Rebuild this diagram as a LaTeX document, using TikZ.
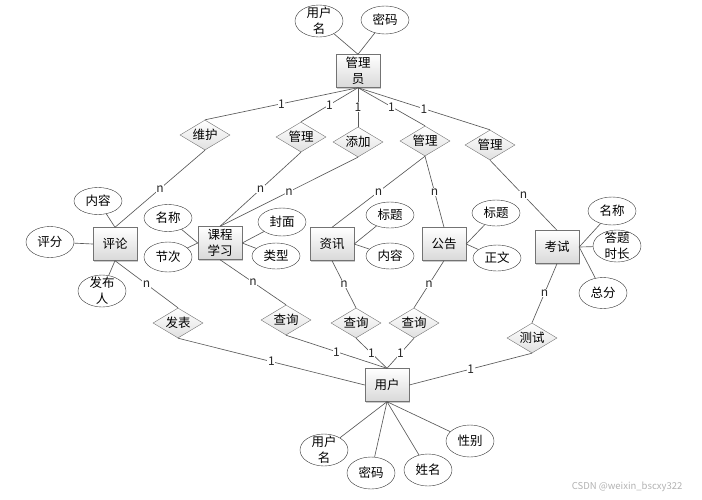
\documentclass[tikz,border=0pt]{standalone}
\usepackage{fontspec}
\setmainfont{Noto Sans CJK SC}
\usepackage{tikz}
\usetikzlibrary{shapes.geometric,shadows}
\newcommand{\ersz}{\fontsize{12.5}{16}\selectfont}
\newcommand{\lblsz}{\fontsize{12}{14}\selectfont}

\begin{document}
\begin{tikzpicture}[x=1pt,y=-1pt,
  ent/.style={rectangle,draw=black!55,top color=white,bottom color=black!15,minimum width=44pt,minimum height=33pt,inner sep=1pt,align=center,font=\ersz,
    drop shadow={shadow xshift=1.2pt,shadow yshift=-1.2pt,fill=black!45,opacity=0.45}},
  rel/.style={diamond,draw=black!55,top color=white,bottom color=black!12,minimum width=50pt,minimum height=30pt,aspect=1.67,inner sep=0pt,font=\ersz},
  attr/.style={ellipse,draw=black!80,fill=white,minimum width=48pt,minimum height=28pt,inner sep=0pt,align=center,font=\ersz},
  attrb/.style={attr,minimum height=32pt,inner ysep=-3pt},
  lbl/.style={fill=white,inner sep=0.6pt,font=\lblsz,text=black!85},
  ln/.style={draw=black!65,line width=0.65pt}]
  \useasboundingbox (0,0) rectangle (702,499);
  % entities
  \node[ent] (adm) at (358,71) {管理\\员};
  \node[ent] (pl) at (115,244) {评论};
  \node[ent] (kc) at (220,243) {课程\\学习};
  \node[ent] (zx) at (332,244) {资讯};
  \node[ent] (gg) at (444,244) {公告};
  \node[ent] (ks) at (557,247) {考试};
  \node[ent] (usr) at (387,385) {用户};
  % relationships
  \node[rel] (wh) at (205,135) {维护};
  \node[rel] (gl1) at (301,137) {管理};
  \node[rel] (tj) at (358,142) {添加};
  \node[rel] (gl2) at (425,141) {管理};
  \node[rel] (gl3) at (490,145) {管理};
  \node[rel] (fb) at (178,323) {发表};
  \node[rel] (cx1) at (286,320) {查询};
  \node[rel] (cx2) at (356,323) {查询};
  \node[rel] (cx3) at (414,323) {查询};
  \node[rel] (cs) at (532,338) {测试};
  % attributes
  \node[attrb] (adm1) at (319,21) {用户\\名};
  \node[attr] (adm2) at (385,20) {密码};
  \node[attr,minimum height=27pt] (pl1) at (98,201) {内容};
  \node[attr,minimum height=31pt] (pl2) at (50,242) {评分};
  \node[attrb] (pl3) at (102,291) {发布\\人};
  \node[attr,minimum height=27pt] (kc1) at (168,218) {名称};
  \node[attr,minimum height=30pt] (kc2) at (168,257) {节次};
  \node[attr] (kc3) at (282,222) {封面};
  \node[attr,minimum height=26pt] (kc4) at (276,256) {类型};
  \node[attr,minimum height=26pt] (zx1) at (390,215) {标题};
  \node[attr,minimum height=26pt] (zx2) at (390,256) {内容};
  \node[attr,minimum height=26pt] (gg1) at (496,213) {标题};
  \node[attr,minimum height=26pt] (gg2) at (497,258) {正文};
  \node[attr] (ks1) at (612,211) {名称};
  \node[attrb] (ks2) at (617,246) {答题\\时长};
  \node[attr,minimum height=31pt] (ks3) at (603,293) {总分};
  \node[attrb] (usr1) at (324,450) {用户\\名};
  \node[attr,minimum height=32pt] (usr2) at (371,473) {密码};
  \node[attr,minimum height=32pt] (usr3) at (428,470) {姓名};
  \node[attr,minimum height=32pt] (usr4) at (470,441) {性别};
  % attribute links
  \draw[ln] (adm1) -- (adm.north);
  \draw[ln] (adm2) -- (adm.north);
  \draw[ln] (pl1) -- (pl.north);
  \draw[ln] (pl2) -- (pl.west);
  \draw[ln] (pl3) -- (pl.south);
  \draw[ln] (kc1) -- (kc.west);
  \draw[ln] (kc2) -- (kc.west);
  \draw[ln] (kc3) -- (kc.east);
  \draw[ln] (kc4) -- (kc.east);
  \draw[ln] (zx1) -- (zx.east);
  \draw[ln] (zx2) -- (zx.east);
  \draw[ln] (gg1) -- (gg.east);
  \draw[ln] (gg2) -- (gg.east);
  \foreach \a in {ks1,ks2,ks3} \draw[ln] (\a) -- (ks.east);
  \foreach \a in {usr1,usr2,usr3,usr4} \draw[ln] (\a) -- (usr.south);
  % admin side
  \foreach \r in {wh,gl1,tj,gl2,gl3} \draw[ln] (adm.south) -- node[lbl]{1} (\r.north);
  \draw[ln] (wh.south) -- node[lbl]{n} (pl.north);
  \draw[ln] (gl1.south) -- node[lbl]{n} (kc.north);
  \draw[ln] (tj.south) -- node[lbl]{n} (kc.north);
  \draw[ln] (gl2.south) -- node[lbl]{n} (zx.north);
  \draw[ln] (gl2.south) -- node[lbl]{n} (gg.north);
  \draw[ln] (gl3.south) -- node[lbl]{n} (ks.north);
  % user side
  \draw[ln] (pl.south) -- node[lbl]{n} (fb.north);
  \draw[ln] (kc.south) -- node[lbl]{n} (cx1.north);
  \draw[ln] (zx.south) -- node[lbl]{n} (cx2.north);
  \draw[ln] (gg.south) -- node[lbl]{n} (cx3.north);
  \draw[ln] (ks.south) -- node[lbl]{n} (cs.north);
  \draw[ln] (fb.south) -- node[lbl]{1} (usr.west);
  \foreach \r in {cx1,cx2,cx3} \draw[ln] (\r.south) -- node[lbl]{1} (usr.north);
  \draw[ln] (cs.south) -- node[lbl]{1} (usr.east);
  \node[anchor=east,text=black!30,font=\fontsize{9.5}{11}\selectfont] (wm) at (686,487) {CSDN @weixin\_bscxy322};
\end{tikzpicture}
\end{document}
